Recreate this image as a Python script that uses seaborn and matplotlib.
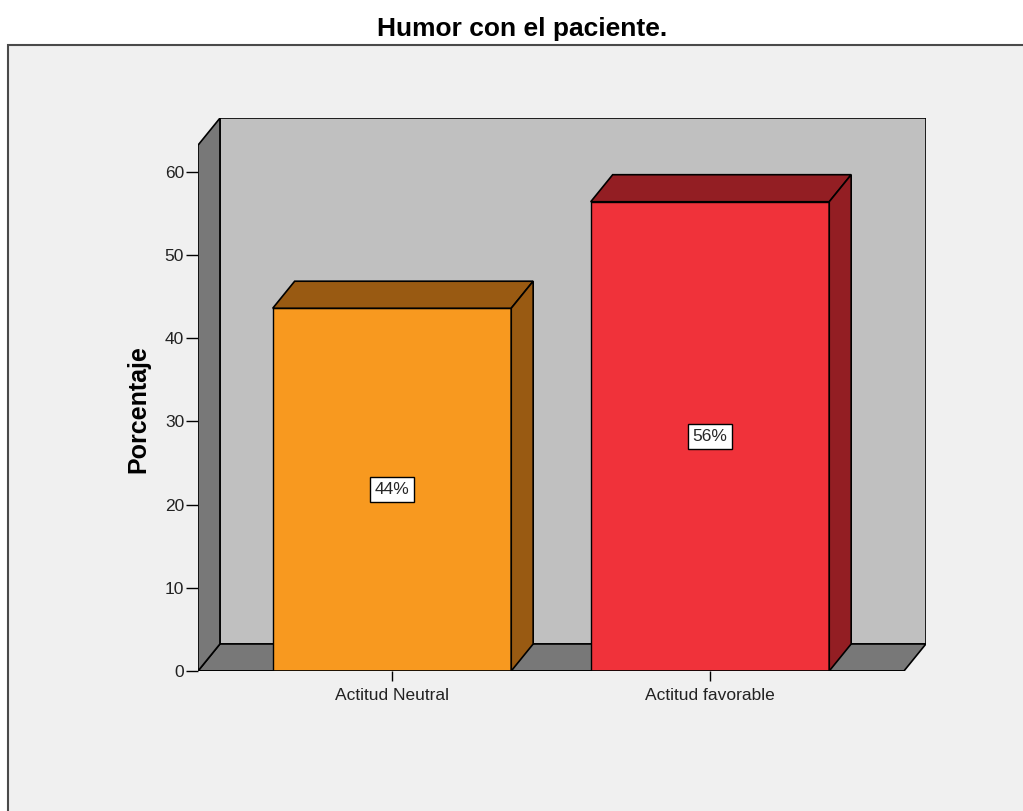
import matplotlib
matplotlib.use("Agg")
import matplotlib.pyplot as plt
import seaborn as sns
import pandas as pd
from matplotlib.patches import Polygon, Rectangle

# data
categorias = ["Actitud Neutral", "Actitud favorable"]
porcentajes = [43.6, 56.4]
etiquetas = ["44%", "56%"]
colores = ["#F8991F", "#F0323A"]
colores_lado = ["#995A12", "#931E23"]
ticks_y = [0, 10, 20, 30, 40, 50, 60]

df = pd.DataFrame({"Categoria": categorias, "Porcentaje": porcentajes})

sns.set_style("white")
plt.rcParams["font.family"] = ["Liberation Sans", "DejaVu Sans"]

W, H = 1023, 811
fig = plt.figure(figsize=(W / 100, H / 100), dpi=100)
fig.patch.set_facecolor("white")

# outer grey panel
fig.patches.append(Rectangle((8 / W, -0.1), 1.1, (H - 45) / H + 0.1,
                             transform=fig.transFigure, facecolor="#F0F0F0",
                             edgecolor="#4A4A4A", linewidth=1.5, zorder=0))
fig.text(522 / W, 1 - 29 / H, "Humor con el paciente.", ha="center", va="center",
         fontsize=19, fontweight="bold", color="black")

# axes cover the front plane plus depth
ax = fig.add_axes([198 / W, (H - 671) / H, (926 - 198) / W, (671 - 118) / H])
ax.set_facecolor("none")
ax.set_zorder(3)

x0, x1 = -0.61, 1.61          # front floor edges
dx, dy = 0.069, 3.25          # depth offset in data units
ytop = 63.2                   # top of walls (front)

sns.barplot(data=df, x="Categoria", y="Porcentaje", hue="Categoria",
            palette=colores, legend=False, width=0.75, edgecolor="black",
            linewidth=1, saturation=1, ax=ax, zorder=5)

ax.set_xlim(x0, x0 + (926 - 198) / 318)
ax.set_ylim(0, (671 - 118) / 8.32)

# walls and floor
wall_kw = dict(edgecolor="black", linewidth=1.2, joinstyle="miter")
ax.add_patch(Polygon([(x0 + dx, dy), (x1 + dx, dy), (x1 + dx, ytop + dy), (x0 + dx, ytop + dy)],
                     facecolor="#C0C0C0", zorder=1, **wall_kw))
ax.add_patch(Polygon([(x0, 0), (x1, 0), (x1 + dx, dy), (x0 + dx, dy)],
                     facecolor="#787878", zorder=2, **wall_kw))
ax.add_patch(Polygon([(x0, 0), (x0 + dx, dy), (x0 + dx, ytop + dy), (x0, ytop)],
                     facecolor="#787878", zorder=2, **wall_kw))

# 3D faces of the bars, computed from the drawn patches
for bar, lado, txt in zip(ax.patches[:len(categorias)], colores_lado, etiquetas):
    bx, bw, bh = bar.get_x(), bar.get_width(), bar.get_height()
    ax.add_patch(Polygon([(bx, bh), (bx + bw, bh), (bx + bw + dx, bh + dy), (bx + dx, bh + dy)],
                         facecolor=lado, zorder=6, **wall_kw))
    ax.add_patch(Polygon([(bx + bw, 0), (bx + bw + dx, dy), (bx + bw + dx, bh + dy), (bx + bw, bh)],
                         facecolor=lado, zorder=6, **wall_kw))
    ax.text(bx + bw / 2, bh / 2, txt, ha="center", va="center", fontsize=12.5, zorder=7,
            bbox=dict(boxstyle="square,pad=0.28", facecolor="white", edgecolor="black", linewidth=1))

for s in ax.spines.values():
    s.set_visible(False)
ax.set_yticks(ticks_y)
ax.set_yticklabels([str(t) for t in ticks_y], fontsize=12.5, color="#222222")
ax.tick_params(axis="y", length=9, width=1, color="black", pad=1, left=True)
ax.tick_params(axis="x", length=7, width=1, color="black", pad=5, bottom=True, labelsize=12.5,
               labelcolor="#222222")
ax.axhline(0, xmin=0, xmax=(x1 - x0) / (ax.get_xlim()[1] - x0), color="black", lw=1.2, zorder=8)
ax.set_xlabel("")
ax.set_ylabel("Porcentaje", fontsize=18, fontweight="bold", color="black")
ax.yaxis.set_label_coords(-0.066, 0.474)

fig.savefig("out.png", dpi=100)
